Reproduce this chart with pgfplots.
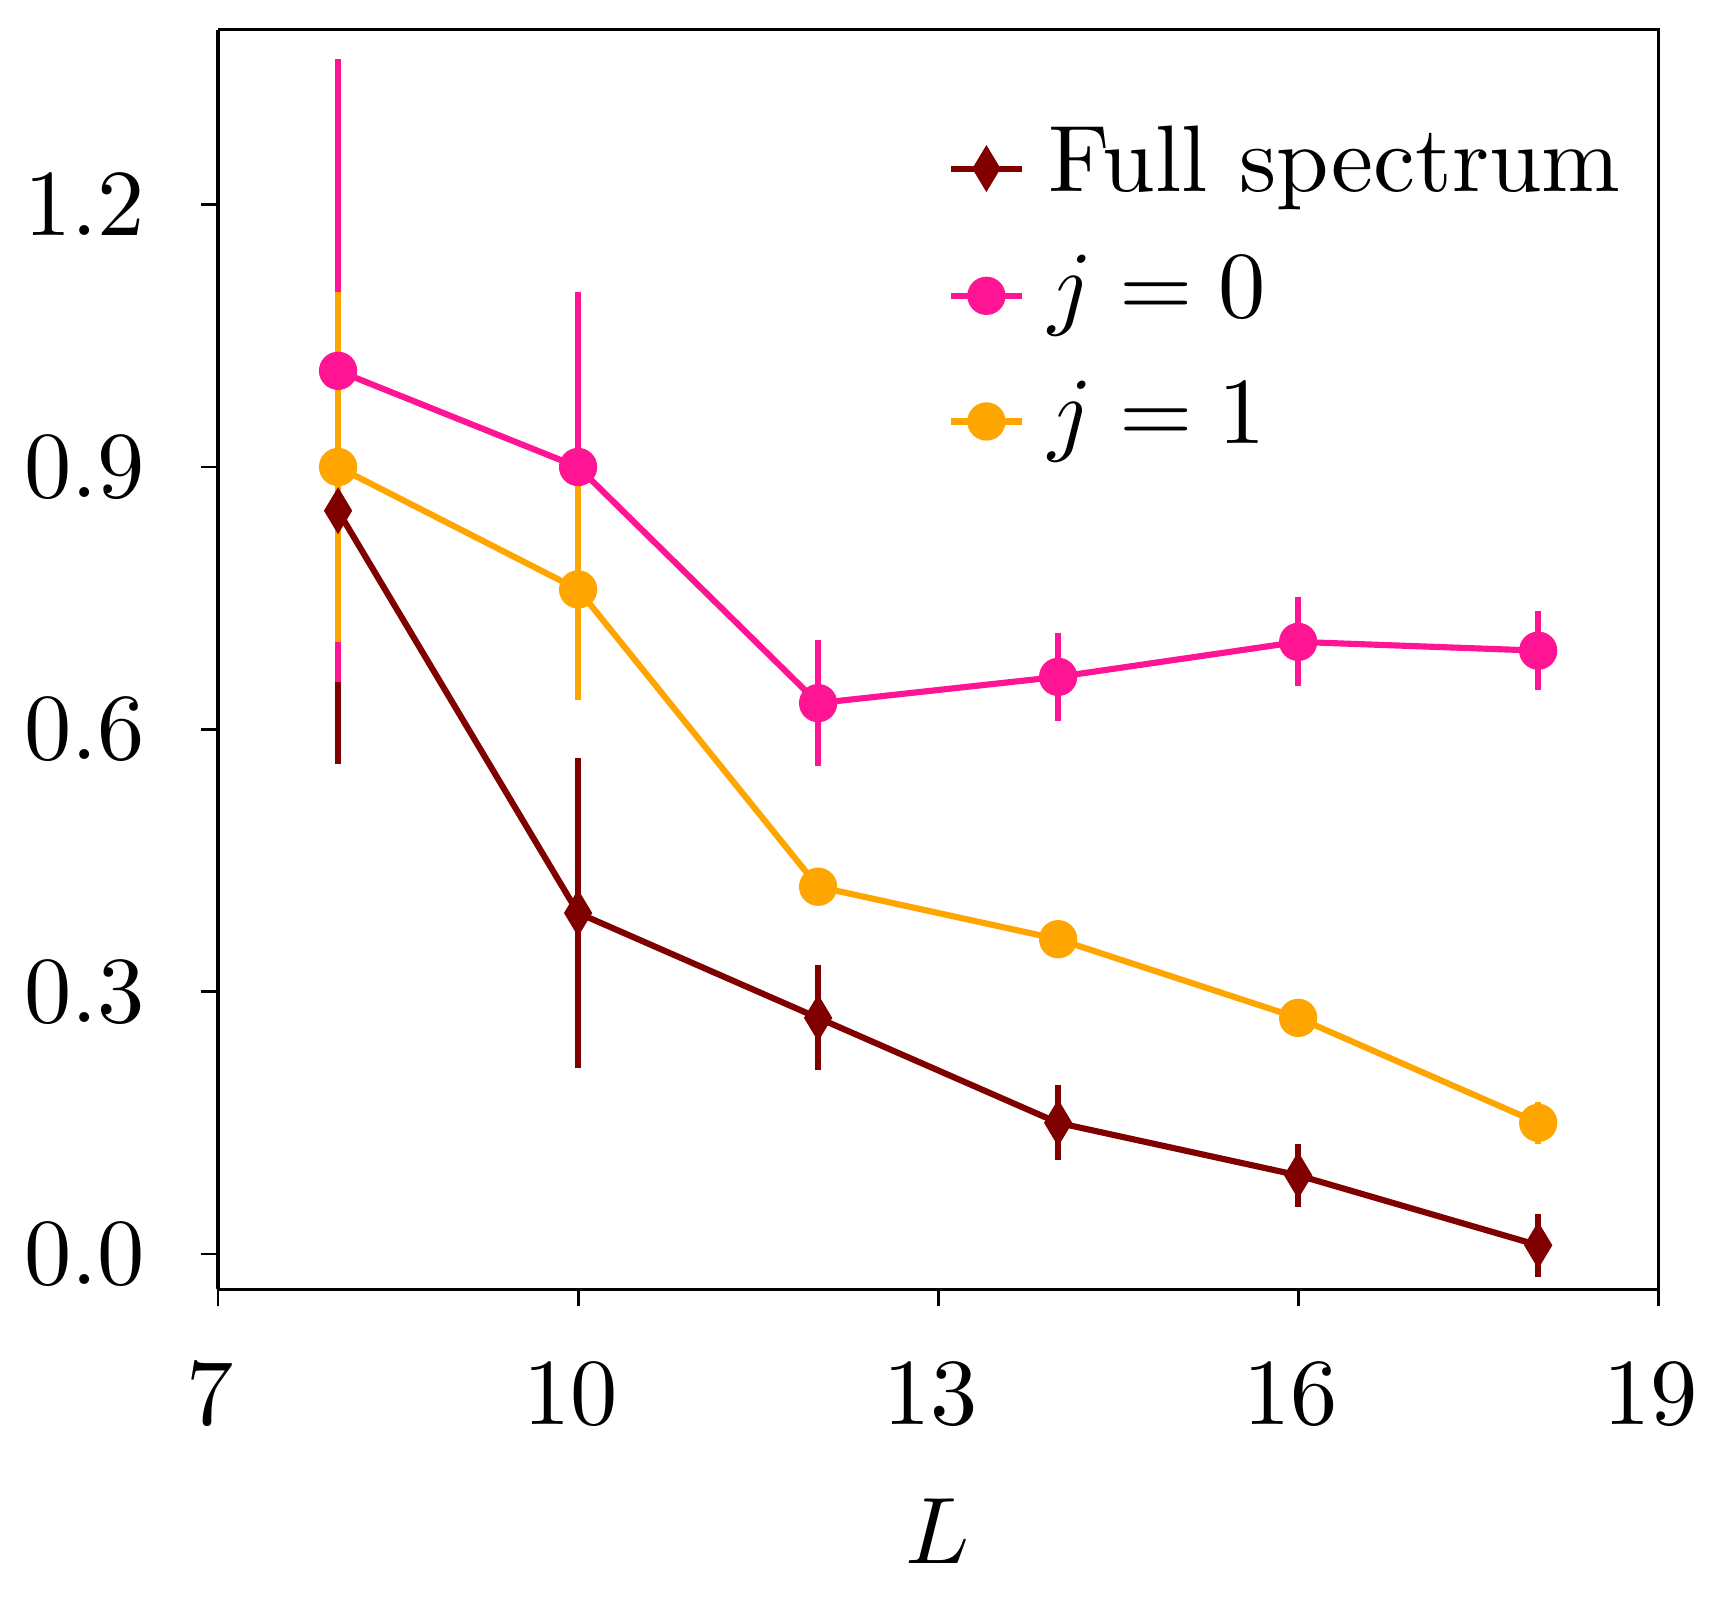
\documentclass[border=0pt]{standalone}
\usepackage{graphicx}
\usepackage{pgfplots}
\pgfplotsset{compat=1.18}
\definecolor{cfull}{HTML}{800000}
\definecolor{cjz}{HTML}{FF1493}
\definecolor{cjo}{HTML}{FFA500}
\newcommand{\bigt}[1]{\scalebox{2}{#1}}
\begin{document}
\begin{tikzpicture}
\useasboundingbox (-46.15pt,-67.8pt) rectangle (321.05pt,272.9pt);
\begin{axis}[
  at={(0,0)}, anchor=south west,
  scale only axis, width=304.8pt, height=266.6pt,
  xmin=7, xmax=19, ymin=-0.0405, ymax=1.4,
  xtick={7,10,13,16,19}, ytick={0,0.3,0.6,0.9,1.2},
  axis x line*=bottom, axis y line*=left,
  axis line style={line width=0.7pt, -},
  tick style={line width=0.6pt, black},
  tick align=outside, major tick length=3.6pt,
  tick label style={font=\fontsize{10}{12}\selectfont},
  xticklabel={\bigt{$\pgfmathprintnumber{\tick}$}},
  yticklabel={\bigt{$\pgfmathprintnumber[fixed,fixed zerofill,precision=1]{\tick}$}},
  xticklabel style={yshift=-8.6pt, xshift=-1.6pt},
  yticklabel style={xshift=-8.3pt},
  xlabel={\bigt{$L$}},
  xlabel style={font=\fontsize{10}{12}\selectfont, at={(axis description cs:0.5,0)}, anchor=center, yshift=-51.2pt},
  legend style={draw=none, fill=none, at={(0.506,0.9316)}, anchor=north west,
    font=\fontsize{10}{12}\selectfont, row sep=5.4pt, inner sep=0pt,
    nodes={inner sep=2pt, text depth=4pt},
    /tikz/every odd column/.append style={column sep=3pt}},
  legend cell align=left,
  legend image code/.code={\draw[mark repeat=2,mark phase=2] plot coordinates {(0cm,0cm)(0.265cm,0cm)(0.53cm,0cm)};},
  clip=false,
]
\draw[line width=0.7pt] (rel axis cs:0,1) -- (rel axis cs:1,1) -- (rel axis cs:1,0);
% error bars first
\addplot[cfull, only marks, mark=none, forget plot,
  error bars/.cd, y dir=both, y explicit, error mark=none,
  error bar style={line width=1.3pt, cfull}]
  coordinates {(8,0.85) +- (0,0.29) (10,0.39) +- (0,0.177) (12,0.27) +- (0,0.06)
               (14,0.15) +- (0,0.043) (16,0.09) +- (0,0.036) (18,0.01) +- (0,0.036)};
\addplot[cjz, only marks, mark=none, forget plot,
  error bars/.cd, y dir=both, y explicit, error mark=none,
  error bar style={line width=1.3pt, cjz}]
  coordinates {(8,1.01) +- (0,0.356) (10,0.90) +- (0,0.2) (12,0.63) +- (0,0.072)
               (14,0.66) +- (0,0.05) (16,0.70) +- (0,0.051) (18,0.69) +- (0,0.045)};
\addplot[cjo, only marks, mark=none, forget plot,
  error bars/.cd, y dir=both, y explicit, error mark=none,
  error bar style={line width=1.3pt, cjo}]
  coordinates {(8,0.90) +- (0,0.2) (10,0.76) +- (0,0.127) (12,0.42) +- (0,0.015)
               (14,0.36) +- (0,0.012) (16,0.27) +- (0,0.015) (18,0.15) +- (0,0.024)};
% lines and marks
\addplot[cfull, line width=1.3pt, mark=diamond*, mark size=4.5pt,
  mark options={solid, fill=cfull, line width=0.5pt, xscale=0.8}]
  coordinates {(8,0.85) (10,0.39) (12,0.27) (14,0.15) (16,0.09) (18,0.01)};
\addlegendentry{\bigt{Full spectrum}}
\addplot[cjz, line width=1.3pt, mark=*, mark size=3.8pt,
  mark options={solid, fill=cjz, line width=0.5pt}]
  coordinates {(8,1.01) (10,0.90) (12,0.63) (14,0.66) (16,0.70) (18,0.69)};
\addlegendentry{\bigt{$j=0$}}
\addplot[cjo, line width=1.3pt, mark=*, mark size=3.8pt,
  mark options={solid, fill=cjo, line width=0.5pt}]
  coordinates {(8,0.90) (10,0.76) (12,0.42) (14,0.36) (16,0.27) (18,0.15)};
\addlegendentry{\bigt{$j=1$}}
\end{axis}
\end{tikzpicture}
\end{document}
